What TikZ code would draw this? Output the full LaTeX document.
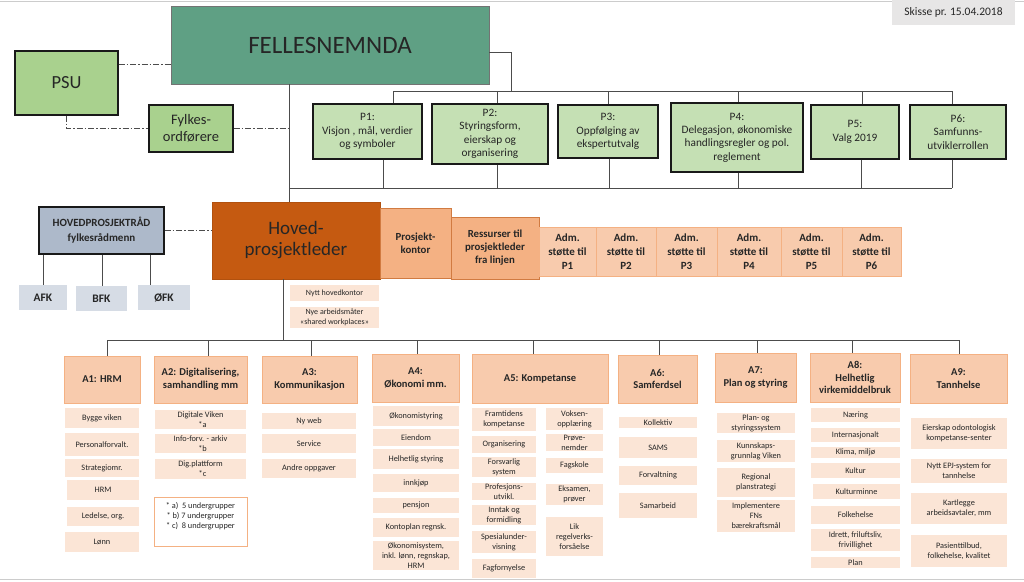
\documentclass[tikz,border=0pt]{standalone}
\usepackage{fontspec}
\setmainfont{Carlito}
\definecolor{cfn}{HTML}{5FA084}
\definecolor{cgreen}{HTML}{A9D18E}
\definecolor{cpbox}{HTML}{C5E0B4}
\definecolor{chov}{HTML}{C55A11}
\definecolor{cor}{HTML}{F4B183}
\definecolor{cpe}{HTML}{F8CBAD}
\definecolor{csub}{HTML}{FBE5D6}
\definecolor{chpr}{HTML}{ADB9CA}
\definecolor{cfk}{HTML}{D6DCE5}
\definecolor{csk}{HTML}{E7E6E6}
\definecolor{ctxt}{HTML}{262626}
\newcommand\bx[7]{\node[#2, minimum width={#5pt-#3pt}, minimum height={#6pt-#4pt}] (#1) at ({(#3+#5)/2},{(#4+#6)/2}) {#7};}
\tikzset{
  base/.style={inner sep=0.5pt, align=center, text=ctxt},
  ln/.style={draw=black!70, line width=0.9pt},
  dd/.style={draw=black!70, line width=0.9pt, dash pattern=on 6pt off 2pt on 1.5pt off 2pt},
  fnbox/.style={base, fill=cfn, draw=black!55, line width=0.8pt, font=\fontsize{25}{28}\selectfont},
  gbox/.style={base, fill=cgreen, draw=black!90, line width=1.2pt},
  pbox/.style={base, fill=cpbox, draw=black!90, line width=1.2pt, font=\fontsize{11.3}{13.4}\selectfont},
  skbox/.style={base, fill=csk, font=\fontsize{11.5}{13}\selectfont},
  hbox/.style={base, fill=chov, draw=chov!90!black, line width=0.6pt, font=\fontsize{19}{21}\selectfont},
  obox/.style={base, fill=cor, draw=chov!80, line width=0.8pt, font=\bfseries\fontsize{10.8}{13}\selectfont},
  admbox/.style={base, fill=cpe, draw=cor, line width=0.8pt, font=\bfseries\fontsize{11}{14}\selectfont},
  hprbox/.style={base, fill=chpr, draw=black!90, line width=1.2pt, font=\bfseries\fontsize{11}{15}\selectfont},
  fkbox/.style={base, fill=cfk, font=\bfseries\fontsize{11.5}{13}\selectfont},
  smallbox/.style={base, fill=csub, font=\fontsize{8}{9.4}\selectfont},
  ahead/.style={base, fill=cpe, draw=cor, line width=0.8pt, font=\bfseries\fontsize{10.5}{12.8}\selectfont},
  sub/.style={base, fill=csub, font=\fontsize{8.3}{10}\selectfont},
  notebox/.style={base, fill=white, draw=cor, line width=0.8pt},
}
\begin{document}
\begin{tikzpicture}[x=1pt,y=-1pt]
\useasboundingbox (0,0) rectangle (1024,581);
\draw[black!20, line width=1pt] (0,1) -- (1024,1);
\draw[black!20, line width=1pt] (0,579.5) -- (1024,579.5);

% top level
\bx{fn}{fnbox}{171}{6}{489}{84}{FELLESNEMNDA}
\bx{psu}{gbox, font=\fontsize{18.5}{20}\selectfont}{15}{51}{118}{115}{PSU}
\bx{fy}{gbox, font=\fontsize{14.5}{17}\selectfont}{149}{105}{233}{152}{Fylkes-\\ordførere}
\bx{sk}{skbox}{892}{0}{1015}{25}{Skisse pr. 15.04.2018}

\bx{p1}{pbox}{313}{104}{422}{159}{P1:\\Visjon , mål, verdier\\og symboler}
\bx{p2}{pbox}{432}{104}{548}{164}{P2:\\Styringsform,\\eierskap og\\organisering}
\bx{p3}{pbox}{558}{105}{658}{158}{P3:\\Oppfølging av\\ekspertutvalg}
\bx{p4}{pbox}{671}{103}{803}{172}{P4:\\Delegasjon, økonomiske\\handlingsregler og pol.\\reglement}
\bx{p5}{pbox}{811}{105}{899}{159}{P5:\\Valg 2019}
\bx{p6}{pbox}{910}{105}{1006}{159}{P6:\\Samfunns-\\utviklerrollen}

% middle level
\bx{hpl}{hbox}{212}{202}{380}{279}{Hoved-\\prosjektleder}
\bx{pk}{obox}{380}{208}{451}{278}{Prosjekt-\\kontor}
\bx{rs}{obox}{451}{217}{539}{279}{Ressurser til\\prosjektleder\\fra linjen}
\bx{ad1}{admbox}{539}{227}{596}{276}{Adm.\\støtte til\\P1}
\bx{ad2}{admbox}{596}{227}{656}{276}{Adm.\\støtte til\\P2}
\bx{ad3}{admbox}{656}{227}{717}{276}{Adm.\\støtte til\\P3}
\bx{ad4}{admbox}{717}{227}{781}{276}{Adm.\\støtte til\\P4}
\bx{ad5}{admbox}{781}{227}{842}{276}{Adm.\\støtte til\\P5}
\bx{ad6}{admbox}{842}{227}{901}{276}{Adm.\\støtte til\\P6}

\bx{hpr}{hprbox}{39}{207}{164}{254}{HOVEDPROSJEKTRÅD\\fylkesrådmenn}
\bx{afk}{fkbox}{19}{285}{67}{310}{AFK}
\bx{bfk}{fkbox}{76}{286}{127}{311}{BFK}
\bx{ofk}{fkbox}{138}{285}{190}{310}{ØFK}

\bx{nh}{smallbox}{290}{285}{379}{301}{Nytt hovedkontor}
\bx{na}{smallbox}{290}{307}{379}{328}{Nye arbeidsmåter\\«shared workplaces»}

% A headers
\bx{a1}{ahead}{64}{356}{140}{403}{A1: HRM}
\bx{a2}{ahead}{154}{356}{247}{403}{A2: Digitalisering,\\samhandling mm}
\bx{a3}{ahead}{262}{356}{357}{403}{A3:\\Kommunikasjon}
\bx{a4}{ahead}{372}{354}{459}{402}{A4:\\Økonomi mm.}
\bx{a5}{ahead}{472}{354}{608}{403}{A5: Kompetanse}
\bx{a6}{ahead}{618}{355}{697}{403}{A6:\\Samferdsel}
\bx{a7}{ahead}{715}{353}{796}{402}{A7:\\Plan og styring}
\bx{a8}{ahead}{810}{353}{900}{402}{A8:\\Helhetlig\\virkemiddelbruk}
\bx{a9}{ahead}{910}{354}{1007}{403}{A9:\\Tannhelse}

% A1
\bx{s11}{sub}{65}{408}{139}{428}{Bygge viken}
\bx{s12}{sub}{65}{433}{139}{456}{Personalforvalt.}
\bx{s13}{sub}{65}{459}{139}{477}{Strategiomr.}
\bx{s14}{sub}{67}{480}{139}{500}{HRM}
\bx{s15}{sub}{67}{507}{139}{526}{Ledelse, org.}
\bx{s16}{sub}{65}{532}{139}{552}{Lønn}
% A2
\bx{s21}{sub}{155}{410}{246}{429}{Digitale Viken\\\hspace*{4pt}*a}
\bx{s22}{sub}{155}{434}{246}{453}{Info-forv. - arkiv\\\hspace*{4pt}*b}
\bx{s23}{sub}{155}{459}{246}{479}{Dig.plattform\\\hspace*{4pt}*c}
\bx{s24}{notebox}{154}{497}{247}{546}{}
\node[base, font=\fontsize{8.3}{10}\selectfont] (s24t) at (200.5,516) {* a)\ \ 5 undergrupper\\* b) 7 undergrupper\\* c)\ \ 8 undergrupper};
% A3
\bx{s31}{sub}{262}{413}{356}{429}{Ny web}
\bx{s32}{sub}{262}{434}{356}{453}{Service}
\bx{s33}{sub}{262}{459}{356}{478}{Andre oppgaver}
% A4
\bx{s41}{sub}{373}{406}{459}{426}{Økonomistyring}
\bx{s42}{sub}{373}{429}{459}{446}{Eiendom}
\bx{s43}{sub}{373}{449}{459}{469}{Helhetlig styring}
\bx{s44}{sub}{373}{474}{459}{492}{innkjøp}
\bx{s45}{sub}{373}{498}{459}{513}{pensjon}
\bx{s46}{sub}{373}{518}{459}{537}{Kontoplan regnsk.}
\bx{s47}{sub}{373}{541}{459}{570}{Økonomisystem,\\inkl. lønn, regnskap,\\HRM}
% A5
\bx{s51}{sub}{472}{408}{536}{431}{Framtidens\\kompetanse}
\bx{s52}{sub}{472}{436}{536}{453}{Organisering}
\bx{s53}{sub}{472}{457}{536}{477}{Forsvarlig\\system}
\bx{s54}{sub}{472}{483}{536}{500}{Profesjons-\\utvikl.}
\bx{s55}{sub}{472}{505}{536}{525}{Inntak og\\formidling}
\bx{s56}{sub}{472}{531}{536}{553}{Spesialunder-\\visning}
\bx{s57}{sub}{472}{559}{536}{578}{Fagfornyelse}
\bx{s58}{sub}{546}{408}{603}{430}{Voksen-\\opplæring}
\bx{s59}{sub}{546}{434}{603}{451}{Prøve-\\nemder}
\bx{s5a}{sub}{546}{458}{603}{473}{Fagskole}
\bx{s5b}{sub}{546}{484}{603}{505}{Eksamen,\\prøver}
\bx{s5c}{sub}{546}{517}{603}{556}{Lik\\regelverks-\\forsåelse}
% A6
\bx{s61}{sub}{619}{417}{697}{428}{Kollektiv}
\bx{s62}{sub}{619}{437}{697}{458}{SAMS}
\bx{s63}{sub}{619}{466}{697}{485}{Forvaltning}
\bx{s64}{sub}{619}{493}{697}{518}{Samarbeid}
% A7
\bx{s71}{sub}{717}{413}{795}{433}{Plan- og\\styringssystem}
\bx{s72}{sub}{717}{440}{795}{462}{Kunnskaps-\\grunnlag Viken}
\bx{s73}{sub}{717}{468}{795}{497}{Regional\\planstrategi}
\bx{s74}{sub}{717}{500}{795}{532}{Implementere\\FNs\\bærekraftsmål}
% A8
\bx{s81}{sub}{811}{408}{900}{422}{Næring}
\bx{s82}{sub}{811}{428}{900}{442}{Internasjonalt}
\bx{s83}{sub}{811}{447}{900}{458}{Klima, miljø}
\bx{s84}{sub}{811}{463}{900}{478}{Kultur}
\bx{s85}{sub}{813}{484}{900}{499}{Kulturminne}
\bx{s86}{sub}{811}{506}{900}{524}{Folkehelse}
\bx{s87}{sub}{811}{529}{900}{551}{Idrett, friluftsliv,\\frivillighet}
\bx{s88}{sub}{811}{557}{900}{568}{Plan}
% A9
\bx{s91}{sub}{911}{418}{1007}{449}{Eierskap odontologisk\\kompetanse-senter}
\bx{s92}{sub}{911}{459}{1007}{483}{Nytt EPJ-system for\\tannhelse}
\bx{s93}{sub}{911}{493}{1007}{524}{Kartlegge\\arbeidsavtaler, mm}
\bx{s94}{sub}{911}{535}{1007}{567}{Pasienttilbud,\\folkehelse, kvalitet}

% coordinates
\coordinate (mv) at (289,0);
\coordinate (mv2) at (283,0);
\coordinate (y64) at (0,64);
\coordinate (fr) at (511,52);
\foreach \i/\x in {1/393,2/497,3/608,4/738,5/862,6/952} {\coordinate (pt\i) at (\x,91);}
\foreach \i/\x in {1/383,2/497,3/609,4/738,5/861,6/952} {\coordinate (pb\i) at (\x,188);}
\foreach \i/\x in {1/107,2/208,3/311,4/417,5/533,6/659,7/757,8/852,9/959} {\coordinate (bb\i) at (\x,340);}
\coordinate (f1) at (43,0);
\coordinate (f2) at (102,0);
\coordinate (f3) at (150,0);

% connectors
\draw[ln] (fn.south -| mv) -- (hpl.north -| mv);
\draw[ln] (fn.east |- fr) -- (fr) -- (fr |- pt1);
\draw[ln] (pt1) -- (pt6);
\foreach \i in {1,...,6} {\draw[ln] (pt\i) -- (pt\i |- p\i.north);}
\draw[ln] (mv |- pb1) -- (pb6);
\foreach \i in {1,...,6} {\draw[ln] (pb\i |- p\i.south) -- (pb\i);}
\draw[dd] (psu.east |- y64) -- (fn.west |- y64);
\draw[dd] (psu.south) |- (fy.west);
\draw[dd] (fy.east) -- (fy.east -| mv);
\draw[dd] (hpr.east) -- (hpr.east -| hpl.west);
\draw[ln] (hpr.south -| f1) -- (afk.north -| f1);
\draw[ln] (hpr.south -| f2) -- (bfk.north -| f2);
\draw[ln] (hpr.south -| f3) -- (ofk.north -| f3);
\draw[ln] (hpl.south -| mv2) -- (mv2 |- bb1);
\draw[ln] (bb1) -- (bb9);
\foreach \i in {1,...,9} {\draw[ln] (bb\i) -- (bb\i |- a\i.north);}
\end{tikzpicture}
\end{document}
